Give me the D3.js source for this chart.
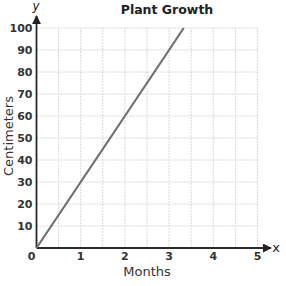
<!DOCTYPE html>
<html>
<head>
<meta charset="utf-8">
<script src="https://cdn.jsdelivr.net/npm/d3@7"></script>
<style>
  body { margin: 0; background: #fff; }
  text { font-family: "DejaVu Sans", Verdana, sans-serif; }
</style>
</head>
<body>
<svg width="286" height="286"></svg>
<script>
var months = [0, 1, 2, 3, 3.33];
var centimeters = [0, 30, 60, 90, 100];
var xTicks = [1, 2, 3, 4, 5];
var yTicks = [10, 20, 30, 40, 50, 60, 70, 80, 90, 100];

var svg = d3.select("svg");
var plotLeft = 36.5, plotRight = 257.5, plotTop = 28, plotBottom = 248;

var x = d3.scaleLinear().domain([0, 5]).range([plotLeft, plotRight]);
var y = d3.scaleLinear().domain([0, 100]).range([plotBottom, plotTop]);

// grid, every half month and every 10 cm
svg.append("g").selectAll("line")
  .data(d3.range(0.5, 5.01, 0.5))
  .enter().append("line")
  .attr("x1", d => x(d)).attr("x2", d => x(d))
  .attr("y1", y(0)).attr("y2", y(100))
  .attr("stroke", "#d8d8d8").attr("stroke-width", 1)
  .attr("stroke-dasharray", "2,1");

svg.append("g").selectAll("line")
  .data(yTicks)
  .enter().append("line")
  .attr("y1", d => y(d)).attr("y2", d => y(d))
  .attr("x1", x(0)).attr("x2", x(5))
  .attr("stroke", "#d8d8d8").attr("stroke-width", 1)
  .attr("stroke-dasharray", "2,1");

// axes with arrows
svg.append("defs").append("marker")
  .attr("id", "arrow").attr("viewBox", "0 0 10 10")
  .attr("refX", 9).attr("refY", 5)
  .attr("markerWidth", 5).attr("markerHeight", 5)
  .attr("orient", "auto")
  .append("path").attr("d", "M0,0 L10,5 L0,10 z").attr("fill", "#222");

svg.append("line")
  .attr("x1", x(0)).attr("x2", x(0))
  .attr("y1", y(0)).attr("y2", 16)
  .attr("stroke", "#2a2a2a").attr("stroke-width", 1.8)
  .attr("marker-end", "url(#arrow)");

svg.append("line")
  .attr("x1", x(0)).attr("x2", 271)
  .attr("y1", y(0)).attr("y2", y(0))
  .attr("stroke", "#2a2a2a").attr("stroke-width", 1.8)
  .attr("marker-end", "url(#arrow)");

// tick labels
svg.append("g").selectAll("text")
  .data(yTicks)
  .enter().append("text")
  .attr("x", x(0) - 4).attr("y", d => y(d) + 4)
  .attr("text-anchor", "end")
  .attr("font-size", 11).attr("font-weight", "bold").attr("fill", "#333")
  .text(d => d);

svg.append("g").selectAll("text")
  .data(xTicks)
  .enter().append("text")
  .attr("x", d => x(d)).attr("y", y(0) + 12)
  .attr("text-anchor", "middle")
  .attr("font-size", 11).attr("font-weight", "bold").attr("fill", "#333")
  .text(d => d);

svg.append("text")
  .attr("x", x(0) - 5).attr("y", y(0) + 12)
  .attr("text-anchor", "middle")
  .attr("font-size", 11).attr("font-weight", "bold").attr("fill", "#333")
  .text("0");

// data line
var line = d3.line().x((d, i) => x(months[i])).y(d => y(d));
svg.append("path")
  .datum(centimeters)
  .attr("d", line)
  .attr("fill", "none").attr("stroke", "#707070").attr("stroke-width", 2.2);

// titles
svg.append("text")
  .attr("x", 167).attr("y", 14)
  .attr("text-anchor", "middle")
  .attr("font-size", 12.5).attr("font-weight", "bold").attr("fill", "#222")
  .text("Plant Growth");

svg.append("text")
  .attr("x", 147).attr("y", 276)
  .attr("text-anchor", "middle")
  .attr("font-size", 13).attr("fill", "#333")
  .text("Months");

svg.append("text")
  .attr("transform", "translate(13,136) rotate(-90)")
  .attr("text-anchor", "middle")
  .attr("font-size", 13).attr("fill", "#333")
  .text("Centimeters");

svg.append("text")
  .attr("x", 36).attr("y", 10)
  .attr("text-anchor", "middle")
  .attr("font-size", 12).attr("font-style", "italic").attr("fill", "#222")
  .text("y");

svg.append("text")
  .attr("x", 276).attr("y", 252)
  .attr("text-anchor", "middle")
  .attr("font-size", 13).attr("fill", "#222")
  .text("x");
</script>
</body>
</html>
